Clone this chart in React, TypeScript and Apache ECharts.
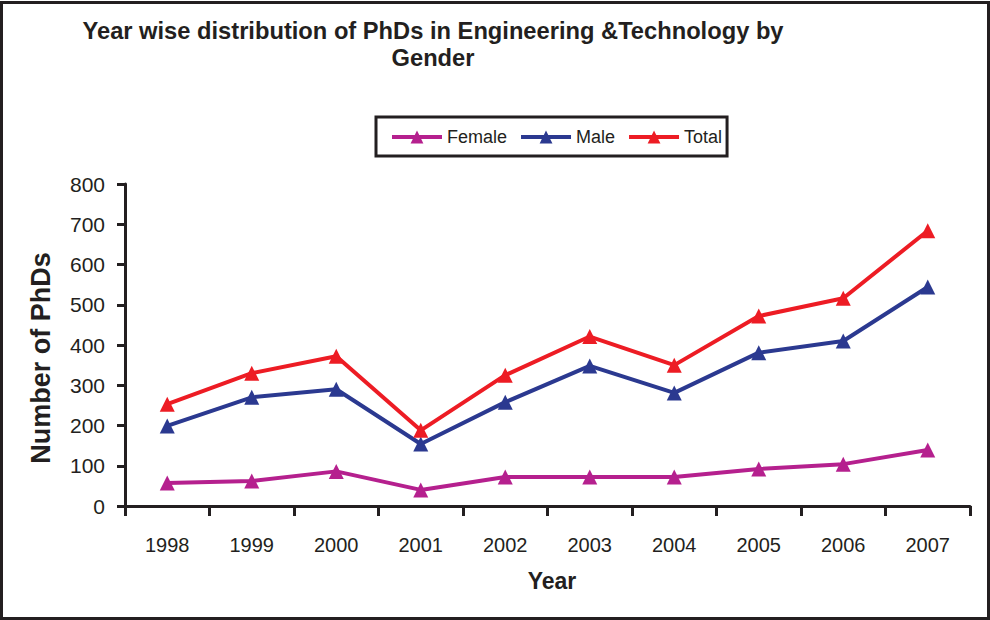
import React, { useEffect, useRef } from "react";
import * as echarts from "echarts";

const years = ["1998", "1999", "2000", "2001", "2002", "2003", "2004", "2005", "2006", "2007"];
const female = [57, 62, 86, 40, 72, 72, 72, 92, 104, 139];
const male = [199, 270, 290, 154, 258, 348, 281, 381, 410, 544];
const total = [253, 330, 372, 188, 325, 421, 350, 472, 516, 684];
const yTicks = { min: 0, max: 800, interval: 100 };

const FONT = "Liberation Sans, Arial, sans-serif";
const INK = "#231f20";

export default function App() {
  const ref = useRef<HTMLDivElement>(null);
  useEffect(() => {
    document.body.style.margin = "0";
    const chart = echarts.init(ref.current!, null, { renderer: "svg" });
    const mk = (name: string, data: number[], color: string) => ({
      name,
      type: "line",
      data,
      symbol: "triangle",
      symbolSize: 15,
      lineStyle: { width: 4, color },
      itemStyle: { color },
      emphasis: { disabled: true },
    });
    chart.setOption({
      animation: false,
      backgroundColor: "#ffffff",
      textStyle: { fontFamily: FONT },
      title: {
        text: "Year wise distribution of PhDs in Engineering &Technology by\nGender",
        left: 428,
        top: 12,
        textAlign: "center",
        textStyle: { fontFamily: FONT, fontSize: 23.7, fontWeight: "bold", color: INK, lineHeight: 27, align: "center" },
      },
      legend: {
        left: 376,
        top: 117,
        itemWidth: 50,
        itemHeight: 16,
        itemGap: 12,
        padding: [11, 5, 10, 14],
        borderColor: INK,
        borderWidth: 3,
        borderRadius: 0,
        lineStyle: { width: 4 },
        textStyle: { fontFamily: FONT, fontSize: 18, color: INK },
        data: ["Female", "Male", "Total"],
      },
      grid: { left: 125, right: 20, top: 184, bottom: 114, containLabel: false },
      xAxis: {
        type: "category",
        data: years,
        boundaryGap: true,
        name: "Year",
        nameLocation: "middle",
        nameGap: 63,
        nameTextStyle: { fontFamily: FONT, fontSize: 23, fontWeight: "bold", color: INK, padding: [0, 0, 0, 9] },
        axisLine: { lineStyle: { color: INK, width: 3 } },
        axisTick: { show: true, length: 10, lineStyle: { color: INK, width: 3 } },
        axisLabel: { fontFamily: FONT, fontSize: 20, color: INK, margin: 29 },
        splitLine: { show: false },
      },
      yAxis: {
        type: "value",
        min: yTicks.min,
        max: yTicks.max,
        interval: yTicks.interval,
        name: "Number of PhDs",
        nameLocation: "middle",
        nameGap: 71,
        nameTextStyle: { fontFamily: FONT, fontSize: 27, fontWeight: "bold", color: INK, padding: [0, 26, 0, 0] },
        axisLine: { show: true, lineStyle: { color: INK, width: 3 } },
        axisTick: { show: true, length: 8, lineStyle: { color: INK, width: 3 } },
        axisLabel: { fontFamily: FONT, fontSize: 21, color: INK, margin: 20 },
        splitLine: { show: false },
      },
      graphic: [
        {
          type: "rect",
          shape: { x: 1.5, y: 2.5, width: 987, height: 616 },
          style: { fill: "none", stroke: INK, lineWidth: 3 },
          silent: true,
        },
      ],
      series: [mk("Female", female, "#b5208e"), mk("Male", male, "#2b3990"), mk("Total", total, "#ed1c24")],
    });
    return () => chart.dispose();
  }, []);
  return <div ref={ref} style={{ width: 990, height: 620 }} />;
}
